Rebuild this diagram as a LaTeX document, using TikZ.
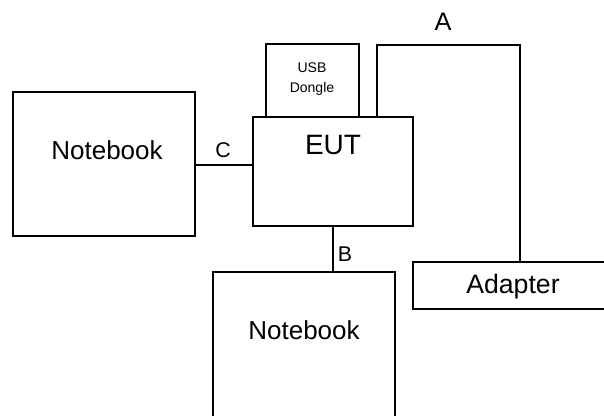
\documentclass[tikz,border=0pt]{standalone}
\usepackage{fontspec}
\setmainfont{Liberation Sans}
\tikzset{box/.style={draw,line width=1.2pt,inner sep=0pt},
  wire/.style={line width=1.2pt},
  lbl/.style={inner sep=0pt,font=\fontsize{16}{18}\selectfont}}

\begin{document}
\begin{tikzpicture}[x=0.75pt,y=-0.75pt]
  \useasboundingbox (0,0) rectangle (604,416);
  \clip (0,0) rectangle (604,416);
  % boxes
  \node[box,minimum width=136.5pt,minimum height=108pt] (nbl) at (104,164) {};
  \node[box,minimum width=120pt,minimum height=81.75pt] (eut) at (333,171.5) {};
  \node[box,minimum width=69.75pt,minimum height=54.75pt] (dongle) at (312.5,80.5) {};
  \node[box,minimum width=172.5pt,minimum height=35.25pt] (adapter) at (528,285.5) {};
  \node[box,minimum width=136.5pt,minimum height=141pt] (nbb) at (304,366) {};
  % texts
  \node[font=\fontsize{19.5}{22}\selectfont] at (107,150) {Notebook};
  \node[font=\fontsize{21}{24}\selectfont] at (333,145) {EUT};
  \node[font=\fontsize{10.5}{15}\selectfont,align=center] at (312,79) {USB\\Dongle};
  \node[font=\fontsize{20}{23}\selectfont] at (513,287) {Adapter};
  \node[font=\fontsize{19.5}{22}\selectfont] at (304,330) {Notebook};
  % cables
  \coordinate (atop) at (377,45);
  \draw[wire] ([yshift=-0.75pt]nbl.east) -- ([yshift=-0.75pt]nbl.east -| eut.west);
  \draw[wire] (eut.south) -- (eut.south |- nbb.north);
  \draw[wire] (eut.north -| atop) -- (atop) -| ([xshift=-6pt]adapter.north);
  \node[lbl,font=\fontsize{19}{22}\selectfont] at (443,22) {A};
  \node[lbl] at (345,254) {B};
  \node[lbl] at (223,150) {C};
\end{tikzpicture}
\end{document}
